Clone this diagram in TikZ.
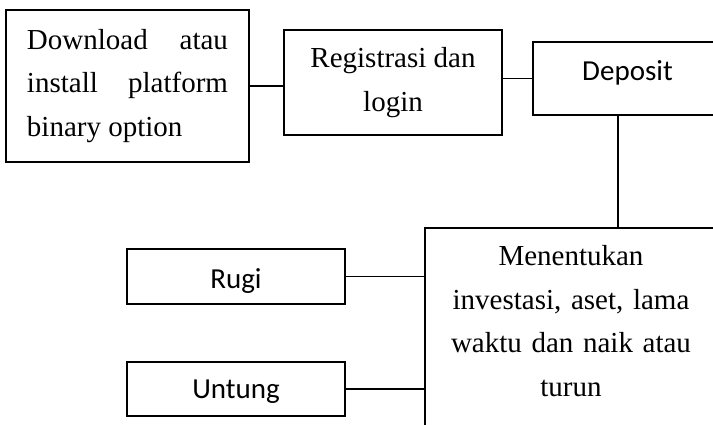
\documentclass[tikz,border=0pt]{standalone}
\usepackage{fontspec}
\setmainfont{Liberation Serif}
\newfontfamily\calibri{Carlito}
\tolerance=10000
\hbadness=10000

\begin{document}
\begin{tikzpicture}[x=1pt,y=-1pt,
    box/.style={draw, line width=1.8pt, inner sep=0pt, font=\fontsize{29}{43.5}\selectfont},
    sbox/.style={box, font=\fontsize{29}{35}\calibri, text depth=6.3pt},
    link/.style={line width=1.8pt}]
  \useasboundingbox (0,0) rectangle (713,425);
  \clip (0,0) rectangle (713,425);

  \node[box, minimum width=243pt, minimum height=152pt, text width=201pt, align=justify] (dl) at (127.5,86) {Download atau install platform binary option};
  \node[box, minimum width=218pt, minimum height=105pt, align=center] (reg) at (393,82.5) {Registrasi dan\\login};
  \node[sbox, minimum width=189pt, minimum height=73pt, text height=20pt, text depth=15.3pt] (dep) at (627.5,78.5) {Deposit};

  \node[box, anchor=north, minimum width=292pt, text width=270pt, align=center,
        text height=20pt, text depth=160pt, inner ysep=18pt] (men) at (571,227)
        {Menentukan\\investasi, aset, lama\\waktu dan naik atau\\turun};
  \node[sbox, minimum width=218pt, minimum height=55pt, text height=31pt] (rugi) at (236,276.5) {Rugi};
  \node[sbox, minimum width=218pt, minimum height=54pt, text height=25pt] (untung) at (236,389) {Untung};

  \draw[link] (dl.east) -- (dl.east -| reg.west);
  \draw[link] (dep.west) -- (dep.west -| reg.east);
  \draw[link] ([xshift=-9.5pt]dep.south) -- ([xshift=-9.5pt]dep.south |- men.north);
  \draw[link] (rugi.east) -- (rugi.east -| men.west);
  \draw[link] (untung.east) -- (untung.east -| men.west);
\end{tikzpicture}
\end{document}
